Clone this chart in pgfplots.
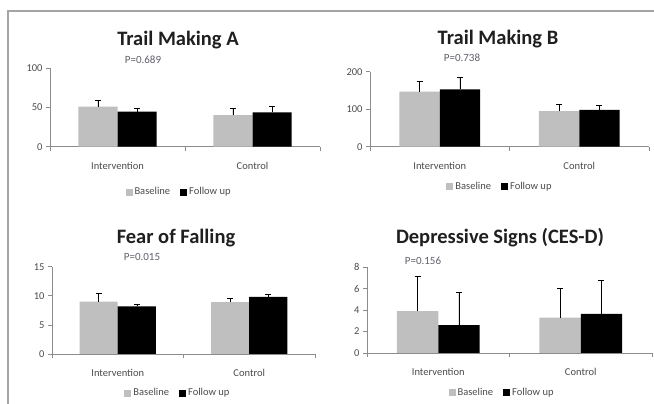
\documentclass[border=0pt]{standalone}
\usepackage{pgfplots}
\pgfplotsset{compat=1.18}
\usepackage{fontspec}
\setmainfont{Carlito}
\definecolor{axgray}{RGB}{140,140,140}
\definecolor{bargray}{RGB}{191,191,191}
\definecolor{txt}{RGB}{75,75,75}
\definecolor{pcol}{RGB}{95,95,105}
\definecolor{frame}{RGB}{165,165,165}
\pgfplotsset{
  panel/.style={
    scale only axis,
    anchor=south west,
    ybar=0pt, bar width=0.29,
    axis lines*=left,
    axis line style={axgray, line width=0.7pt},
    ymin=0, xmin=-0.5, xmax=1.5,
    xtick={-0.5,0.5,1.5}, xticklabels={},
    extra x ticks={0,1},
    extra x tick labels={Intervention,Control},
    extra x tick style={major tick length=0pt, xticklabel style={yshift=-12pt}},
    tick align=outside, major tick length=4pt,
    tick style={axgray, line width=0.6pt},
    ytick pos=left, xtick pos=bottom,
    /pgf/number format/assume math mode=true,
    ticklabel style={font=\fontsize{10.5}{12}\selectfont, text=txt},
    legend columns=2,
    legend style={draw=none, fill=none, anchor=center,
      font=\fontsize{10.5}{12}\selectfont, text=txt,
      /tikz/every even column/.append style={column sep=8pt},
      inner sep=0pt},
    legend image code/.code={\fill[##1] (0pt,-3.5pt) rectangle (7pt,3.5pt);},
  },
  base/.style={fill=bargray, draw=none,
    error bars/.cd, y dir=plus, y explicit,
    error bar style={black, line width=0.6pt},
    error mark options={rotate=90, black, line width=0.6pt, mark size=3pt}},
  foll/.style={fill=black, draw=none,
    error bars/.cd, y dir=plus, y explicit,
    error bar style={black, line width=0.6pt},
    error mark options={rotate=90, black, line width=0.6pt, mark size=3pt}},
}
\begin{document}
\begin{tikzpicture}
\useasboundingbox (0,0) rectangle (654pt,404pt);
\draw[frame, line width=1.2pt] (8pt,0pt) -- (8pt,393pt) -- (654pt,393pt);

% Trail Making A
\begin{axis}[panel, at={(50pt,257.3pt)}, width=270pt, height=78.4pt,
  ymax=100, ytick={0,50,100},
  legend style={at={(0.478,-0.578)}}]
\addplot[base] coordinates {(0,51.0) +- (0,8.6) (1,40.4) +- (0,8.6)};
\addplot[foll] coordinates {(0,44.7) +- (0,4.3) (1,43.8) +- (0,8.2)};
\legend{Baseline,Follow up}
\end{axis}

% Trail Making B
\begin{axis}[panel, at={(370pt,257.3pt)}, width=279pt, height=75pt,
  ymax=200, ytick={0,100,200},
  legend style={at={(0.466,-0.537)}}]
\addplot[base] coordinates {(0,147) +- (0,28) (1,95) +- (0,19)};
\addplot[foll] coordinates {(0,153) +- (0,32) (1,98) +- (0,13)};
\legend{Baseline,Follow up}
\end{axis}

% Fear of Falling
\begin{axis}[panel, at={(52pt,50pt)}, width=263pt, height=87.3pt,
  ymax=15, ytick={0,5,10,15},
  legend style={at={(0.479,-0.447)}}]
\addplot[base] coordinates {(0,9.0) +- (0,1.4) (1,8.9) +- (0,0.65)};
\addplot[foll] coordinates {(0,8.2) +- (0,0.3) (1,9.8) +- (0,0.4)};
\legend{Baseline,Follow up}
\end{axis}

% Depressive Signs
\begin{axis}[panel, at={(367pt,51pt)}, width=285pt, height=86pt,
  ymax=8, ytick={0,2,4,6,8},
  legend style={at={(0.474,-0.465)}}]
\addplot[base] coordinates {(0,3.9) +- (0,3.2) (1,3.3) +- (0,2.75)};
\addplot[foll] coordinates {(0,2.6) +- (0,3.0) (1,3.65) +- (0,3.1)};
\legend{Baseline,Follow up}
\end{axis}

\begin{scope}[every node/.style={text=black!88, font=\fontsize{20.5}{24}\selectfont\bfseries}]
\node at (178pt,364pt) {Trail Making A};
\node at (498pt,365pt) {Trail Making B};
\node at (176pt,166pt) {Fear of Falling};
\node at (500pt,166pt) {Depressive Signs (CES-D)};
\end{scope}
\begin{scope}[every node/.style={text=pcol, font=\fontsize{11}{13}\selectfont}]
\node at (143pt,344pt) {P=0.689};
\node at (462pt,346pt) {P=0.738};
\node at (142pt,147pt) {P=0.015};
\node at (423pt,143pt) {P=0.156};
\end{scope}
\end{tikzpicture}
\end{document}
